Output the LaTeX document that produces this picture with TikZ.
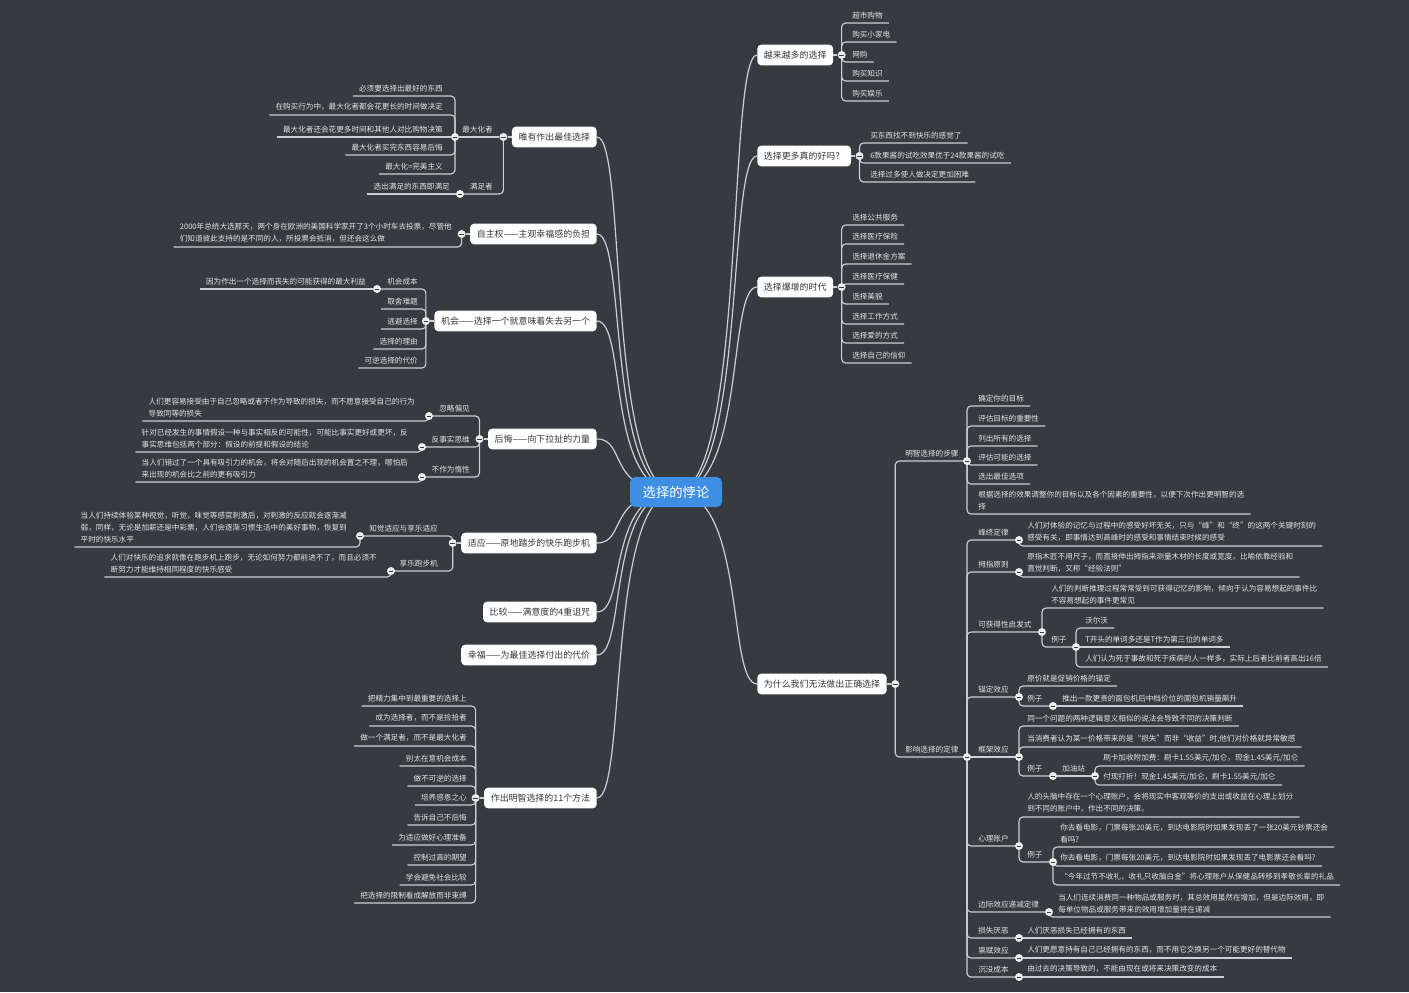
\documentclass[tikz,border=0pt]{standalone}
\usepackage{fontspec}
\setmainfont{Noto Sans CJK SC}
\usetikzlibrary{positioning}
\definecolor{MmBack}{RGB}{55,58,62}
\definecolor{MmLine}{RGB}{205,207,210}
\definecolor{MmLeaf}{RGB}{228,229,231}
\definecolor{MmTopicText}{RGB}{51,54,58}
\definecolor{MmRoot}{RGB}{62,143,228}
\definecolor{MmKnob}{RGB}{236,237,239}
\pgfdeclarelayer{wires}
\pgfsetlayers{wires,main}
\tikzset{
  mm/root/.style={
    fill=MmRoot,
    rounded corners=4pt,
    text=white,
    minimum width=69pt,
    minimum height=22.5pt,
    inner xsep=6pt,
    font=\fontsize{10}{12}\selectfont
  },
  mm/topic/.style={
    fill=white,
    rounded corners=3pt,
    text=MmTopicText,
    minimum height=15.5pt,
    inner xsep=5pt,
    inner ysep=2pt,
    font=\fontsize{6.7}{8}\selectfont
  },
  mm/leaf/.style={
    anchor=south west,
    align=left,
    text=MmLeaf,
    inner xsep=4.5pt,
    inner ysep=3pt,
    font=\fontsize{5.7}{9}\selectfont
  },
  mm/leafl/.style={mm/leaf, anchor=south east},
  mm/knob/.style={
    circle,
    fill=MmKnob,
    minimum size=6pt,
    inner sep=0pt,
    path picture={\draw[MmBack,line width=0.7pt]
      ([xshift=-1.7pt]path picture bounding box.center) --
      ([xshift=1.7pt]path picture bounding box.center);}
  },
  mm/wire/.style={draw=MmLine, line width=0.85pt, rounded corners=3pt},
  mm/curve/.style={draw=MmLine, line width=0.9pt}
}

\begin{document}
\begin{tikzpicture}[x=0.75pt,y=-0.75pt]
  \begin{pgfonlayer}{wires}
    \fill[MmBack] (0,0) rectangle (1409,992);
  \end{pgfonlayer}
  \useasboundingbox (0,0) rectangle (1409,992);

  \node[mm/root] (root) at (676,492) {选择的悖论};

  % right side
  \node[mm/topic,anchor=west] (more) at (757,55) {越来越多的选择};
  \node[mm/knob,right=3pt of more] (more-k) {};
  \foreach \y/\txt [count=\i] in {23/超市购物,42/购买小家电,62/网购,81/购买知识,101/购买娱乐}
    \node[mm/leaf] (more\i) at (846,\y) {\txt};

  \node[mm/topic,anchor=west] (better) at (757,156) {选择更多真的好吗？};
  \node[mm/knob,right=3pt of better] (better-k) {};
  \foreach \y/\txt [count=\i] in {143/买东西找不到快乐的感觉了,163/6款果酱的试吃效果优于24款果酱的试吃,182/选择过多使人做决定更加困难}
    \node[mm/leaf] (better\i) at (864,\y) {\txt};

  \node[mm/topic,anchor=west] (era) at (757,287) {选择爆增的时代};
  \node[mm/knob,right=3pt of era] (era-k) {};
  \foreach \y/\txt [count=\i] in {225/选择公共服务,244/选择医疗保险,264/选择退休金方案,284/选择医疗保健,304/选择美貌,324/选择工作方式,343/选择爱的方式,363/选择自己的信仰}
    \node[mm/leaf] (era\i) at (846,\y) {\txt};

  \node[mm/topic,anchor=west] (why) at (757,684) {为什么我们无法做出正确选择};
  \node[mm/knob,right=3pt of why] (why-k) {};
  \node[mm/leaf] (steps) at (899,461) {明智选择的步骤};
  \node[mm/knob] (steps-k) at (967,461) {};
  \node[mm/leaf] (laws) at (899,757) {影响选择的定律};
  \node[mm/knob] (laws-k) at (967,757) {};

  \foreach \y/\txt [count=\i] in {406/确定你的目标,426/评估目标的重要性,446/列出所有的选择,465/评估可能的选择,484/选出最佳选项}
    \node[mm/leaf] (steps\i) at (972,\y) {\txt};
  \node[mm/leaf] (steps6) at (972,514) {根据选择的效果调整你的目标以及各个因素的重要性，以便下次作出更明智的选\\择};

  \foreach \n/\y/\kx/\txt in {peak/540/1019/峰终定律,thumb/572/1019/拇指原则,avail/632/1042/可获得性启发式,anch/697/1019/锚定效应,frame/757/1019/框架效应,account/846/1019/心理账户,margin/912/1049/边际效应递减定律,loss/938/1019/损失厌恶,endow/958/1019/禀赋效应,sunk/977/1019/沉没成本}
  {
    \node[mm/leaf] (\n) at (972,\y) {\txt};
    \node[mm/knob] (\n-k) at (\kx,\y) {};
  }

  \node[mm/leaf] (peak1) at (1021,546) {人们对体验的记忆与过程中的感受好坏无关，只与“峰”和“终”的这两个关键时刻的\\感受有关，即事情达到高峰时的感受和事情结束时候的感受};
  \node[mm/leaf] (thumb1) at (1021,577) {原指木匠不用尺子，而直接伸出拇指来测量木材的长度或宽度，比喻依靠经验和\\直觉判断，又称“经验法则”};
  \node[mm/leaf] (avail1) at (1045,608) {人们的判断推理过程常常受到可获得记忆的影响，倾向于认为容易想起的事件比\\不容易想起的事件更常见};
  \node[mm/leaf] (avail2) at (1045,647) {例子};
  \node[mm/knob] (avail2-k) at (1076,647) {};
  \node[mm/leaf] (avail21) at (1079,628) {沃尔沃};
  \node[mm/leaf] (avail22) at (1079,647) {T开头的单词多还是T作为第三位的单词多};
  \node[mm/leaf] (avail23) at (1079,667) {人们认为死于事故和死于疾病的人一样多，实际上后者比前者高出16倍};

  \node[mm/leaf] (anch1) at (1021,686) {原价就是促销价格的锚定};
  \node[mm/leaf] (anch2) at (1021,706) {例子};
  \node[mm/knob] (anch2-k) at (1053,706) {};
  \node[mm/leaf] (anch21) at (1056,706) {推出一款更贵的面包机后中档价位的面包机销量飙升};

  \node[mm/leaf] (frame1) at (1021,726) {同一个问题的两种逻辑意义相似的说法会导致不同的决策判断};
  \node[mm/leaf] (frame2) at (1021,747) {当消费者认为某一价格带来的是“损失”而非“收益”时,他们对价格就异常敏感};
  \node[mm/leaf] (frame3) at (1021,776) {例子};
  \node[mm/knob] (frame3-k) at (1053,776) {};
  \node[mm/leaf] (frame31) at (1056,776) {加油站};
  \node[mm/knob] (frame31-k) at (1095,776) {};
  \node[mm/leaf] (frame311) at (1097,766) {刷卡加收附加费：刷卡1.55美元/加仑，现金1.45美元/加仑};
  \node[mm/leaf] (frame312) at (1097,785) {付现打折！现金1.45美元/加仑，刷卡1.55美元/加仑};

  \node[mm/leaf] (account1) at (1021,817) {人的头脑中存在一个心理账户，会将现实中客观等价的支出或收益在心理上划分\\到不同的账户中，作出不同的决策。};
  \node[mm/leaf] (account2) at (1021,862) {例子};
  \node[mm/knob] (account2-k) at (1053,862) {};
  \node[mm/leaf] (account21) at (1054,847) {你去看电影，门票每张20美元，到达电影院时如果发现丢了一张20美元钞票还会\\看吗?};
  \node[mm/leaf] (account22) at (1054,866) {你去看电影，门票每张20美元，到达电影院时如果发现丢了电影票还会看吗?};
  \node[mm/leaf] (account23) at (1054,885) {“今年过节不收礼，收礼只收脑白金”将心理账户从保健品转移到孝敬长辈的礼品};

  \node[mm/leaf] (margin1) at (1052,917) {当人们连续消费同一种物品或服务时，其总效用虽然在增加，但是边际效用，即\\每单位物品或服务带来的效用增加量将在递减};
  \node[mm/leaf] (loss1) at (1021,938) {人们厌恶损失已经拥有的东西};
  \node[mm/leaf] (endow1) at (1021,958) {人们更愿意持有自己已经拥有的东西，而不用它交换另一个可能更好的替代物};
  \node[mm/leaf] (sunk1) at (1021,977) {由过去的决策导致的，不能由现在或将来决策改变的成本};

  % left side
  \node[mm/topic,anchor=east] (best) at (597,137) {唯有作出最佳选择};
  \node[mm/knob,left=3pt of best] (best-k) {};
  \node[mm/leafl] (max) at (499,137) {最大化者};
  \node[mm/knob] (max-k) at (455,137) {};
  \node[mm/leafl] (sat) at (499,194) {满足者};
  \node[mm/knob] (sat-k) at (460,194) {};
  \foreach \y/\txt [count=\i] in {96/必须要选择出最好的东西,115/在购买行为中，最大化者都会花更长的时间做决定,137/最大化者还会花更多时间和其他人对比购物决策,155/最大化者买完东西容易后悔,174/最大化=完美主义}
    \node[mm/leafl] (max\i) at (449,\y) {\txt};
  \node[mm/leafl] (sat1) at (456,194) {选出满足的东西即满足};

  \node[mm/topic,anchor=east] (auto) at (597,234) {自主权——主观幸福感的负担};
  \node[mm/knob,left=3pt of auto] (auto-k) {};
  \node[mm/leafl] (auto1) at (458,247) {2000年总统大选那天，两个身在欧洲的美国科学家开了3个小时车去投票，尽管他\\们知道彼此支持的是不同的人，所投票会抵消，但还会这么做};

  \node[mm/topic,anchor=east] (chance) at (597,321) {机会——选择一个就意味着失去另一个};
  \node[mm/knob,left=3pt of chance] (chance-k) {};
  \node[mm/leafl] (cost) at (424,289) {机会成本};
  \node[mm/knob] (cost-k) at (377,289) {};
  \node[mm/leafl] (cost1) at (372,289) {因为作出一个选择而丧失的可能获得的最大利益};
  \foreach \y/\txt [count=\i] in {309/取舍难题,329/逃避选择,349/选择的理由,368/可逆选择的代价}
    \node[mm/leafl] (chance\i) at (424,\y) {\txt};

  \node[mm/topic,anchor=east] (regret) at (597,439) {后悔——向下拉扯的力量};
  \node[mm/knob,left=3pt of regret] (regret-k) {};
  \foreach \n/\y/\kx/\txt in {omit/416/429/忽略偏见,counter/447/422/反事实思维,inert/477/422/不作为惰性}
  {
    \node[mm/leafl] (\n) at (476,\y) {\txt};
    \node[mm/knob] (\n-k) at (\kx,\y) {};
  }
  \node[mm/leafl] (omit1) at (421,421) {人们更容易接受由于自己忽略或者不作为导致的损失，而不愿意接受自己的行为\\导致同等的损失};
  \node[mm/leafl] (counter1) at (414,452) {针对已经发生的事情假设一种与事实相反的可能性，可能比事实更好或更坏，反\\事实思维包括两个部分：假设的前提和假设的结论};
  \node[mm/leafl] (inert1) at (414,482) {当人们错过了一个具有吸引力的机会，将会对随后出现的机会置之不理，哪怕后\\来出现的机会比之前的更有吸引力};

  \node[mm/topic,anchor=east] (adapt) at (597,543) {适应——原地踏步的快乐跑步机};
  \node[mm/knob,left=3pt of adapt] (adapt-k) {};
  \node[mm/leafl] (sense) at (444,536) {知觉适应与享乐适应};
  \node[mm/knob] (sense-k) at (360,536) {};
  \node[mm/leafl] (mill) at (444,571) {享乐跑步机};
  \node[mm/knob] (mill-k) at (391,571) {};
  \node[mm/leafl] (sense1) at (353,547) {当人们持续体验某种视觉，听觉，味觉等感官刺激后，对刺激的反应就会逐渐减\\弱，同样，无论是加薪还是中彩票，人们会逐渐习惯生活中的美好事物，恢复到\\平时的快乐水平};
  \node[mm/leafl] (mill1) at (383,577) {人们对快乐的追求就像在跑步机上跑步，无论如何努力都前进不了，而且必须不\\断努力才能维持相同程度的快乐感受};

  \node[mm/topic,anchor=east] (compare) at (597,612) {比较——满意度的4重诅咒};
  \node[mm/topic,anchor=east] (happy) at (597,655) {幸福——为最佳选择付出的代价};

  \node[mm/topic,anchor=east] (wise) at (597,798) {作出明智选择的11个方法};
  \node[mm/knob,left=3pt of wise] (wise-k) {};
  \foreach \y/\txt [count=\i] in {706/把精力集中到最重要的选择上,726/成为选择者，而不是捡拾者,746/做一个满足者，而不是最大化者,766/别太在意机会成本,786/做不可逆的选择,805/培养感恩之心,825/告诉自己不后悔,845/为适应做好心理准备,865/控制过高的期望,885/学会避免社会比较,903/把选择的限制看成解放而非束缚}
    \node[mm/leafl] (wise\i) at (473,\y) {\txt};

  % connectors
  \begin{pgfonlayer}{wires}
    \foreach \t in {more,better,era,why}
    {
      \draw[mm/curve] (root.center) .. controls +(70,0) and +(-30,0) .. (\t.west);
      \draw[mm/wire] (\t) -- (\t-k);
    }
    \foreach \t in {best,auto,chance,regret,adapt,wise}
    {
      \draw[mm/curve] (root.center) .. controls +(-70,0) and +(30,0) .. (\t.east);
      \draw[mm/wire] (\t) -- (\t-k);
    }
    \foreach \t in {compare,happy}
      \draw[mm/curve] (root.center) .. controls +(-70,0) and +(30,0) .. (\t.east);

    \foreach \i in {1,...,5} \draw[mm/wire] (more-k.center) |- (more\i.south east);
    \foreach \i in {1,2,3} \draw[mm/wire] (better-k.center) |- (better\i.south east);
    \foreach \i in {1,...,8} \draw[mm/wire] (era-k.center) |- (era\i.south east);

    \draw[mm/wire] (why-k.center) |- (steps-k.center);
    \draw[mm/wire] (why-k.center) |- (laws-k.center);
    \foreach \i in {1,...,6} \draw[mm/wire] (steps-k.center) |- (steps\i.south east);
    \foreach \n in {peak,thumb,avail,anch,account,margin,loss,endow,sunk}
      \draw[mm/wire] (laws-k.center) |- (\n-k.center);
    \draw[mm/wire] (laws-k) -- (frame-k);

    \draw[mm/wire] (peak-k.center) |- (peak1.south east);
    \draw[mm/wire] (thumb-k.center) |- (thumb1.south east);
    \draw[mm/wire] (avail-k.center) |- (avail1.south east);
    \draw[mm/wire] (avail-k.center) |- (avail2-k.center);
    \draw[mm/wire] (avail2-k.center) |- (avail21.south east);
    \draw[mm/wire] (avail2-k) -- (avail22.south east);
    \draw[mm/wire] (avail2-k.center) |- (avail23.south east);
    \draw[mm/wire] (anch-k.center) |- (anch1.south east);
    \draw[mm/wire] (anch-k.center) |- (anch2-k.center);
    \draw[mm/wire] (anch2-k) -- (anch21.south east);
    \draw[mm/wire] (frame-k.center) |- (frame1.south east);
    \draw[mm/wire] (frame-k.center) |- (frame2.south east);
    \draw[mm/wire] (frame-k.center) |- (frame3-k.center);
    \draw[mm/wire] (frame3-k) -- (frame31-k);
    \draw[mm/wire] (frame31-k.center) |- (frame311.south east);
    \draw[mm/wire] (frame31-k.center) |- (frame312.south east);
    \draw[mm/wire] (account-k.center) |- (account1.south east);
    \draw[mm/wire] (account-k.center) |- (account2-k.center);
    \foreach \i in {1,2,3} \draw[mm/wire] (account2-k.center) |- (account2\i.south east);
    \draw[mm/wire] (margin-k.center) |- (margin1.south east);
    \foreach \n in {loss,endow,sunk} \draw[mm/wire] (\n-k) -- (\n1.south east);

    \draw[mm/wire] (best-k) -- (max-k);
    \draw[mm/wire] (best-k.center) |- (sat-k.center);
    \foreach \i in {1,2,4,5} \draw[mm/wire] (max-k.center) |- (max\i.south west);
    \draw[mm/wire] (max-k) -- (max3.south west);
    \draw[mm/wire] (sat-k) -- (sat1.south west);

    \draw[mm/wire] (auto-k.center) |- (auto1.south west);

    \draw[mm/wire] (chance-k.center) |- (cost-k.center);
    \draw[mm/wire] (cost-k) -- (cost1.south west);
    \foreach \i in {1,...,4} \draw[mm/wire] (chance-k.center) |- (chance\i.south west);

    \foreach \n in {omit,counter,inert}
    {
      \draw[mm/wire] (regret-k.center) |- (\n-k.center);
      \draw[mm/wire] (\n-k.center) |- (\n1.south west);
    }

    \draw[mm/wire] (adapt-k.center) |- (sense-k.center);
    \draw[mm/wire] (adapt-k.center) |- (mill-k.center);
    \draw[mm/wire] (sense-k.center) |- (sense1.south west);
    \draw[mm/wire] (mill-k.center) |- (mill1.south west);

    \foreach \i in {1,...,11} \draw[mm/wire] (wise-k.center) |- (wise\i.south west);
  \end{pgfonlayer}
\end{tikzpicture}
\end{document}
